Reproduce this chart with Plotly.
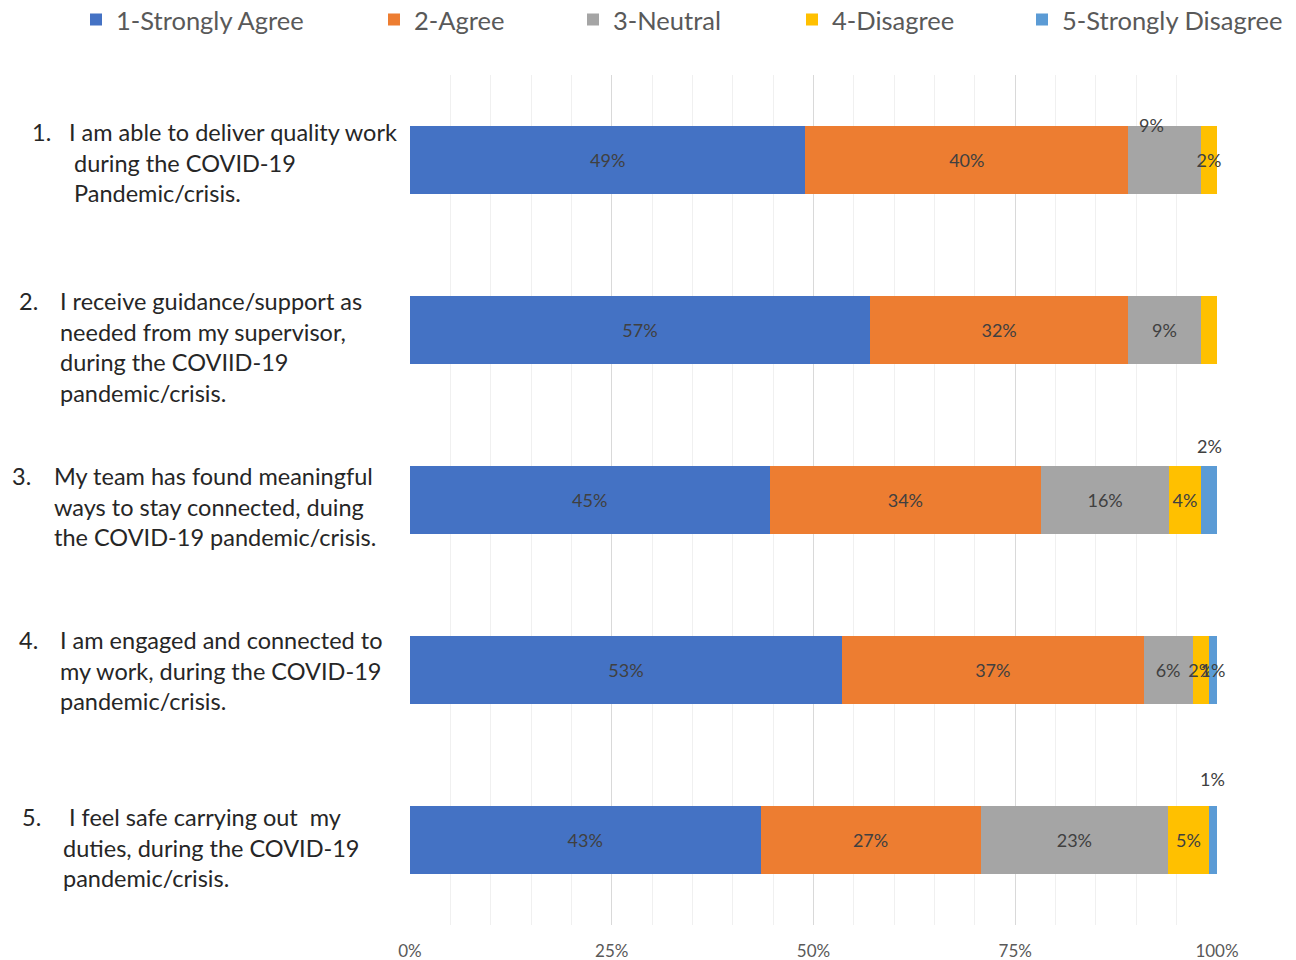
import plotly.graph_objects as go

# Survey statements (one list of lines per statement) and their numbers
numbers = ["1.", "2.", "3.", "4.", "5."]
questions = [
    ["I am able to deliver quality work", "during the COVID-19", "Pandemic/crisis."],
    ["I receive guidance/support as", "needed from my supervisor,", "during the COVIID-19", "pandemic/crisis."],
    ["My team has found meaningful", "ways to stay connected, duing", "the COVID-19 pandemic/crisis."],
    ["I am engaged and connected to", "my work, during the COVID-19", "pandemic/crisis."],
    ["I feel safe carrying out  my", "duties, during the COVID-19", "pandemic/crisis."],
]
categories = ["Q1", "Q2", "Q3", "Q4", "Q5"]

# Response shares (%) per statement
series_names = ["1-Strongly Agree", "2-Agree", "3-Neutral", "4-Disagree", "5-Strongly Disagree"]
strongly_agree = [49, 57, 45, 53, 43]
agree = [40, 32, 34, 37, 27]
neutral = [9, 9, 16, 6, 23]
disagree = [2, 2, 4, 2, 5]
strongly_disagree = [0, 0, 2, 1, 1]

# Data label placement per series and statement:
# "in" = centred in segment, "top"/"up" = lifted above the bar, "" = none
label_mode = [
    ["in", "in", "in", "in", "in"],
    ["in", "in", "in", "in", "in"],
    ["top", "in", "in", "in", "in"],
    ["in", "", "in", "in", "in"],
    ["", "", "up", "in", "up"],
]

colors = ["#4472C4", "#ED7D31", "#A5A5A5", "#FFC000", "#5B9BD5"]
series = [strongly_agree, agree, neutral, disagree, strongly_disagree]
tick_values = [0, 25, 50, 75, 100]
tick_labels = ["0%", "25%", "50%", "75%", "100%"]

FONT = "Lato"
LABEL_SIZE = 18
W, H = 1296, 960
L, R, T, B = 410, 79, 75, 35
PW = W - L - R
PH = H - T - B

fig = go.Figure()
legend_x_px = [96, 394, 593, 812, 1042]
for i, (name, vals, col) in enumerate(zip(series_names, series, colors)):
    texts = []
    for j, v in enumerate(vals):
        mode = label_mode[i][j]
        texts.append(f"{v}%" if (mode == "in" and v > 0) else "")
    fig.add_trace(go.Bar(
        y=categories, x=vals, name=name, orientation="h",
        marker=dict(color=col, line=dict(width=0)),
        text=texts, textposition="inside", insidetextanchor="middle",
        textangle=0, constraintext="none", cliponaxis=False,
        insidetextfont=dict(family=FONT, size=LABEL_SIZE, color="#404040"),
        hoverinfo="skip",
        legend="legend" if i == 0 else f"legend{i + 1}",
    ))

annotations = []
# Labels moved outside their segment, positioned from the normalised stack
for i, vals in enumerate(series):
    for j, v in enumerate(vals):
        mode = label_mode[i][j]
        if mode not in ("top", "up"):
            continue
        total = sum(s[j] for s in series)
        start = sum(series[k][j] for k in range(i)) / total * 100
        centre = start + v / total * 100 / 2
        if mode == "top":
            xshift, yshift = -13, 35
        else:
            xshift, yshift = 0, 54 if j == 2 else 61
        annotations.append(dict(
            x=centre, y=j, xref="x", yref="y", text=f"{v}%",
            showarrow=False, xshift=xshift, yshift=yshift,
            font=dict(family=FONT, size=LABEL_SIZE, color="#404040"),
        ))

# Statement text to the left of the bars
num_x = [30, 17, 10, 17, 20]
text_x = [[67, 72, 72], [58, 58, 58, 58], [52, 52, 52], [58, 58, 58], [67, 61, 61]]
first_line = [-28, -29, -24, -30, -23]
line_step = 30.5
Q_SIZE = 23.5
for j, lines in enumerate(questions):
    annotations.append(dict(
        x=(num_x[j] - L) / PW, y=j, xref="paper", yref="y",
        text=numbers[j], showarrow=False, xanchor="left",
        yshift=-first_line[j],
        font=dict(family=FONT, size=Q_SIZE, color="#262626"),
    ))
    for k, line in enumerate(lines):
        annotations.append(dict(
            x=(text_x[j][k] - L) / PW, y=j, xref="paper", yref="y",
            text=line, showarrow=False, xanchor="left",
            yshift=-(first_line[j] + k * line_step),
            font=dict(family=FONT, size=Q_SIZE, color="#262626"),
        ))

legends = {}
for i in range(5):
    key = "legend" if i == 0 else f"legend{i + 1}"
    legends[key] = dict(
        x=(legend_x_px[i] - 20 - L) / PW, y=(H - 20 - B) / PH, xref="paper", yref="paper",
        xanchor="left", yanchor="middle", orientation="h",
        font=dict(family=FONT, size=25.5, color="#595959"),
        bgcolor="rgba(0,0,0,0)", itemclick=False, itemdoubleclick=False,
    )

fig.update_layout(
    width=W, height=H,
    margin=dict(l=L, r=R, t=T, b=B, autoexpand=False),
    barmode="stack", barnorm="percent", bargap=0.6,
    plot_bgcolor="white", paper_bgcolor="white",
    showlegend=True,
    annotations=annotations,
    xaxis=dict(
        range=[0, 100], tickmode="array", tickvals=tick_values, ticktext=tick_labels,
        showgrid=True, gridcolor="#D9D9D9", gridwidth=1,
        minor=dict(dtick=5, showgrid=True, gridcolor="#F0F0F0", gridwidth=1),
        zeroline=False, showline=False, ticks="", ticklabelstandoff=14,
        tickfont=dict(family=FONT, size=17, color="#595959"),
        fixedrange=True,
    ),
    yaxis=dict(
        type="category", autorange="reversed", showticklabels=False, showgrid=False,
        zeroline=False, showline=False, fixedrange=True,
    ),
    **legends,
)

fig.write_html("out.html")
